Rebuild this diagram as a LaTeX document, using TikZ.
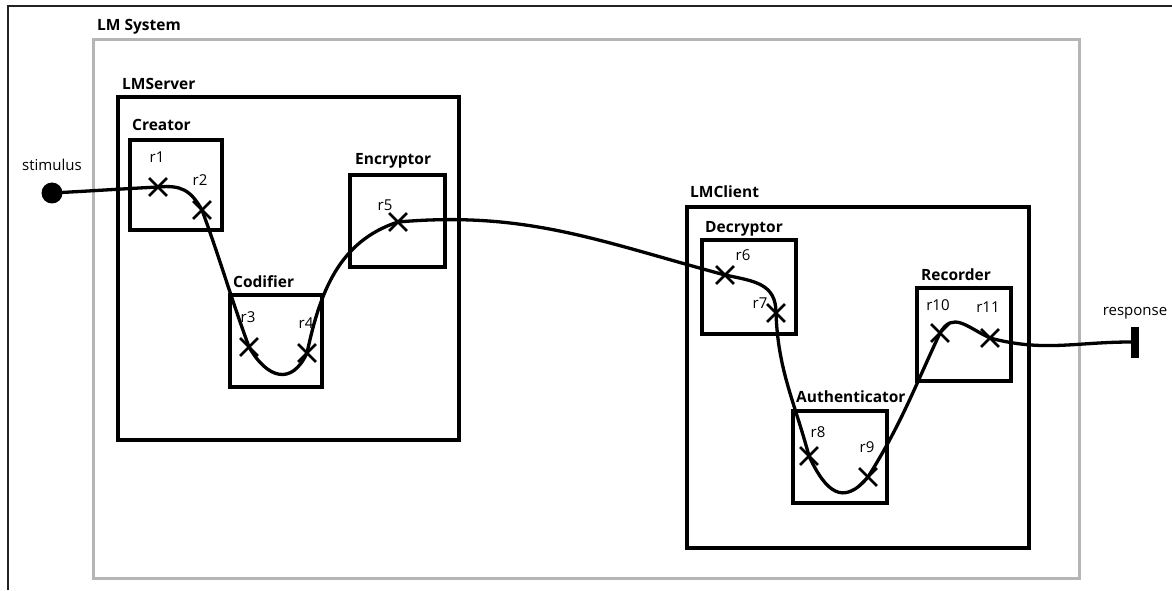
\documentclass[tikz,border=0pt]{standalone}
\usepackage{fontspec}
\setmainfont{Open Sans}
\usetikzlibrary{positioning,shapes.misc}
\definecolor{cgray}{HTML}{B5B5B5}
\definecolor{cframe}{HTML}{222222}

\begin{document}
\begin{tikzpicture}[x=1pt,y=1pt,font=\fontsize{15}{17}\selectfont,
    sysbox/.style={draw=cgray,line width=3pt},
    compbox/.style={draw,line width=3.4pt},
    ttl/.style={anchor=base west,inner sep=0pt,font=\fontsize{15.5}{17}\selectfont\bfseries},
    rlbl/.style={inner sep=0pt},
    rpt/.style={draw,cross out,line width=2.8pt,minimum size=15pt,inner sep=0pt},
    ucm/.style={line width=3.3pt,line cap=round}]
    \useasboundingbox (0,0) rectangle (1172,590);
    % ---- outer frame, only top and left show
    \draw[cframe,line width=2.5pt] (8,0) -- (8,584) -- (1172,584);
    % ---- LM System
    \draw[sysbox] (93,12) rectangle (1079,550);
    \node[ttl] (tsys) at (97,559) {LM System};
    % ---- LMServer: Creator, Codifier, Encryptor
    \draw[compbox] (118,150) rectangle (459,493);
    \node[ttl] (tserver) at (122,500) {LMServer};
    \draw[compbox] (130,360) rectangle (222,450);
    \node[ttl] (tcreator) at (132,459) {Creator};
    \draw[compbox] (230,203) rectangle (322,295);
    \node[ttl] (tcodifier) at (233,303) {Codifier};
    \draw[compbox] (350,323) rectangle (445,415);
    \node[ttl] (tencryptor) at (355,425) {Encryptor};
    % ---- LMClient: Decryptor, Authenticator, Recorder
    \draw[compbox] (687,42) rectangle (1029,383);
    \node[ttl] (tclient) at (690,392) {LMClient};
    \draw[compbox] (702,256) rectangle (796,350);
    \node[ttl] (tdecryptor) at (705,358) {Decryptor};
    \draw[compbox] (793,87) rectangle (887,179);
    \node[ttl] (tauth) at (796,188) {Authenticator};
    \draw[compbox] (917,209) rectangle (1011,302);
    \node[ttl] (trecorder) at (921,310) {Recorder};
    % ---- start and end points
    \node[circle,fill,inner sep=0pt,minimum size=21pt] (stim) at (52,397) {};
    \node[rlbl] (lstim) at (52,425) {stimulus};
    \node[fill,inner sep=0pt,minimum width=8pt,minimum height=31pt] (resp) at (1135,248) {};
    \node[rlbl] (lresp) at (1135,277) {response};
    % responsibility points
    \foreach \n/\x/\y in {r1/158/403,r2/202/380,r3/249/243,r4/307/237,r5/398/368,
      r6/725/315,r7/776/277,r8/809/134,r9/868/113,r10/940/257,r11/990/252}
      \coordinate (\n) at (\x,\y);
    \foreach \n/\x/\y in {r1/157/433,r2/200/410,r3/248/273,r4/306/267,r5/385/385,
      r6/743/335,r7/760/287,r8/818/158,r9/867/143,r10/938/285,r11/988/283}
      \node[rlbl] (l\n) at (\x,\y) {\n};
    % ---- the path
    \draw[ucm] (stim.center) to[out=3,in=183] (r1)
      to[out=5,in=120,looseness=1.2] (r2)
      to[out=-70,in=110] (r3)
      to[out=-60,in=-115,looseness=1.6] (r4)
      to[out=78,in=198] (r5)
      to[out=5,in=165] (r6)
      to[out=-12,in=90,looseness=1.2] (r7)
      to[out=-88,in=105] (r8)
      to[out=-65,in=-130,looseness=1.6] (r9)
      to[out=58,in=-115] (r10)
      to[out=60,in=155,looseness=1.3] (r11)
      to[out=-15,in=180] (resp.west);
    \foreach \n in {r1,r2,r3,r4,r5,r6,r7,r8,r9,r10,r11}
      \node[rpt] (x\n) at (\n) {};
  \end{tikzpicture}
\end{document}
